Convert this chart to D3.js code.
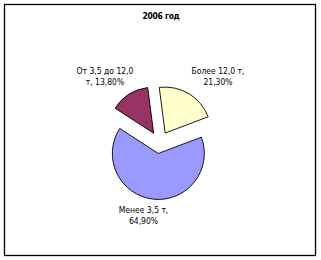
<!DOCTYPE html>
<html><head><meta charset="utf-8">
<script src="https://cdn.jsdelivr.net/npm/d3@7"></script>
<style>body{margin:0;background:#fff}svg{display:block}</style>
</head><body>
<svg id="c" width="321" height="260"></svg>
<script>
const title = "2006 год";
const categories = ["Более 12,0 т", "Менее 3,5 т", "От 3,5 до 12,0 т"];
const values = [21.3, 64.9, 13.8];
const valueLabels = ["21,30%", "64,90%", "13,80%"];
const labelLines = [["Более 12,0 т,", "21,30%"], ["Менее 3,5 т,", "64,90%"], ["От 3,5 до 12,0", "т, 13,80%"]];
const colors = ["#FFFFCC", "#9999FF", "#993366"];

const svg = d3.select("#c");
svg.append("rect").attr("x",4.5).attr("y",4.5).attr("width",311).attr("height",251)
  .attr("fill","#fff").attr("stroke","#000").attr("stroke-width",1.3);

svg.append("text").attr("x",161).attr("y",19).attr("text-anchor","middle")
  .attr("font-family","DejaVu Sans Condensed, DejaVu Sans").attr("font-weight","bold")
  .attr("font-size",8.5).attr("letter-spacing",-0.3).text(title);

const cx = 159.5, cy = 142.5, r = 46, explode = 11;
const start = -7.4 * Math.PI/180;
const pie = d3.pie().sort(null).startAngle(start).endAngle(start + 2*Math.PI);
const arcs = pie(values);
const arc = d3.arc().innerRadius(0).outerRadius(r);
const g = svg.append("g").attr("transform",`translate(${cx},${cy})`);
g.selectAll("path").data(arcs).join("path")
  .attr("d", arc)
  .attr("transform", d => {
    const a = (d.startAngle + d.endAngle)/2;
    return `translate(${explode*Math.sin(a)},${-explode*Math.cos(a)})`;
  })
  .attr("fill", (d,i) => colors[i]).attr("stroke","#000").attr("stroke-width",0.9);

const labelPos = [[218,74],[143.5,213],[105,74]];
labelLines.forEach((lines,i) => {
  const t = svg.append("text").attr("text-anchor","middle")
    .attr("font-family","DejaVu Sans Condensed, DejaVu Sans").attr("font-size",8.5);
  lines.forEach((s,j) => t.append("tspan").attr("x",labelPos[i][0]).attr("y",labelPos[i][1]+j*11).text(s));
});
</script>
</body></html>
